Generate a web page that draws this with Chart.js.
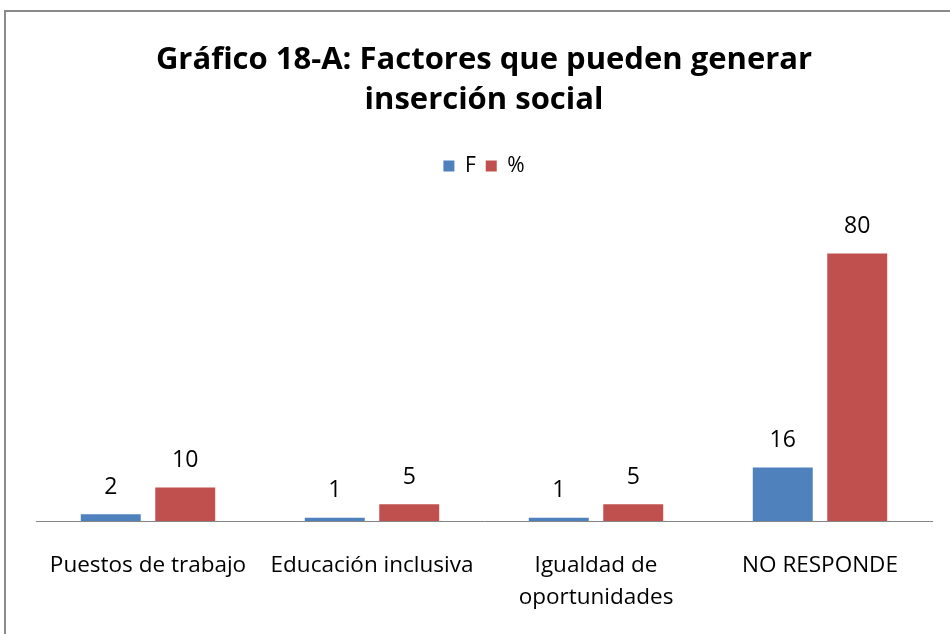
<!DOCTYPE html>
<html>
<head>
<meta charset="utf-8">
<script src="https://cdn.jsdelivr.net/npm/chart.js@4.4.1/dist/chart.umd.min.js"></script>
<style>
    html, body { margin: 0; padding: 0; background: #fff; overflow: hidden; }
    #frame {
        position: absolute; left: 4px; top: 10px;
        width: 1000px; height: 700px;
        border: 2px solid #8a8a8a;
        box-sizing: border-box;
    }
    #wrap { position: absolute; left: 0; top: 0; width: 950px; height: 634px; }
</style>
</head>
<body>
<div id="frame"></div>
<div id="wrap"><canvas id="chart" width="950" height="634"></canvas></div>
<script>
// Chart data
const categories = ['Puestos de trabajo', 'Educación inclusiva', ['Igualdad de', 'oportunidades'], 'NO RESPONDE'];
const fValues = [2, 1, 1, 16];
const pctValues = [10, 5, 5, 80];
const seriesNames = ['F', '%'];

const FONT = '"Open Sans", Lato, sans-serif';

// draws the value above each bar
const valueLabels = {
    id: 'valueLabels',
    afterDatasetsDraw(chart) {
        const ctx = chart.ctx;
        ctx.save();
        ctx.font = '23px ' + FONT;
        ctx.fillStyle = '#000';
        ctx.textAlign = 'center';
        ctx.textBaseline = 'middle';
        chart.data.datasets.forEach((ds, i) => {
            chart.getDatasetMeta(i).data.forEach((bar, j) => {
                ctx.fillText(String(ds.data[j]), bar.x, bar.y - 27);
            });
        });
        ctx.restore();
    }
};

new Chart(document.getElementById('chart'), {
    type: 'bar',
    data: {
        labels: categories,
        datasets: [
            { label: seriesNames[0], data: fValues, backgroundColor: '#4F81BD' },
            { label: seriesNames[1], data: pctValues, backgroundColor: '#C0504D' }
        ]
    },
    options: {
        responsive: false,
        animation: false,
        categoryPercentage: 0.665,
        barPercentage: 0.805,
        layout: { padding: { left: 36, right: 18, top: 0, bottom: 0 } },
        plugins: {
            title: {
                display: true,
                text: ['Gráfico 18-A: Factores que pueden generar', 'inserción social'],
                color: '#000',
                font: { family: FONT, size: 31, weight: 'bold', lineHeight: 1.3 },
                padding: { top: 40, bottom: 25 }
            },
            legend: {
                position: 'top',
                labels: {
                    color: '#000',
                    font: { family: FONT, size: 21 },
                    boxWidth: 11,
                    boxHeight: 11,
                    padding: 10
                }
            },
            tooltip: { enabled: false }
        },
        scales: {
            x: {
                grid: { display: false, drawTicks: false },
                border: { display: true, color: '#868686', width: 1 },
                ticks: {
                    color: '#000',
                    font: { family: FONT, size: 22.5, lineHeight: 1.45 },
                    padding: 28,
                    maxRotation: 0,
                    autoSkip: false
                },
                afterFit: (scale) => { scale.height = 113; }
            },
            y: {
                display: false,
                min: 0,
                max: 100
            }
        }
    },
    plugins: [valueLabels]
});
</script>
</body>
</html>
